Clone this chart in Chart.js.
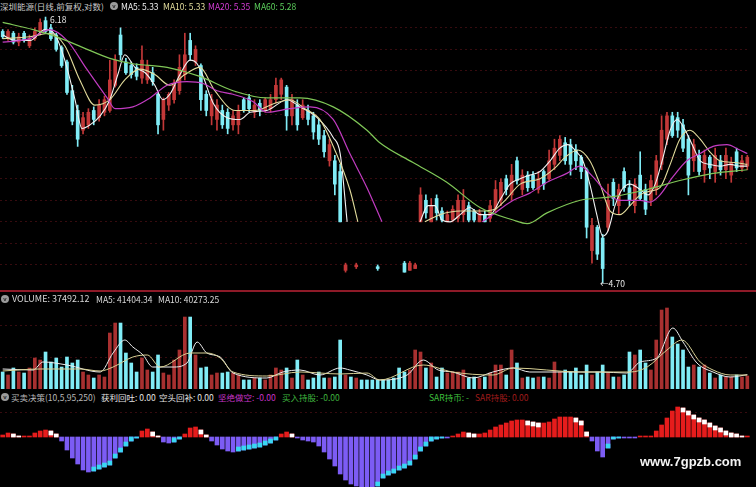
<!DOCTYPE html>
<html><head><meta charset="utf-8">
<script src="https://cdn.jsdelivr.net/npm/chart.js@4.4.0/dist/chart.umd.min.js"></script>
<style>
html,body{margin:0;padding:0;background:#000;width:756px;height:487px;overflow:hidden;position:relative;}
.box{position:absolute;left:0;width:750px;}
canvas{display:block;}
.t{position:absolute;white-space:nowrap;font-family:"Noto Sans CJK SC","Liberation Sans",sans-serif;font-size:8.5px;line-height:10px;color:#c8c8c8;}
.ic{position:absolute;width:8px;height:8px;border-radius:50%;background:#9a9a9a;color:#222;font:bold 6px/8px "Liberation Sans",sans-serif;text-align:center;}
.sep{position:absolute;left:0;width:756px;height:2px;background:#8e1a28;}
</style></head>
<body>
<div class="box" style="top:14px;height:277px"><canvas id="cp" width="750" height="277"></canvas></div>
<div class="box" style="top:305px;height:84px"><canvas id="cv" width="750" height="84"></canvas></div>
<div class="box" style="top:405px;height:82px"><canvas id="co" width="750" height="82"></canvas></div>
<div class="sep" style="top:290px"></div>

<span class="t" style="left:0;top:1px;color:#c8c8c8">深圳能源(日线,前复权,对数)</span>
<div class="ic" style="left:110px;top:2px">v</div>
<span class="t" style="left:121px;top:1px;color:#eeeeee">MA5: 5.33</span>
<span class="t" style="left:163px;top:1px;color:#e2dc9c">MA10: 5.33</span>
<span class="t" style="left:208px;top:1px;color:#d23cd2">MA20: 5.35</span>
<span class="t" style="left:254px;top:1px;color:#5cd05c">MA60: 5.28</span>
<span class="t" style="left:50px;top:14px;color:#e8e8e8">6.18</span>
<span class="t" style="left:600px;top:278px;color:#e8e8e8">←4.70</span>

<div class="ic" style="left:1px;top:295px">v</div>
<span class="t" style="left:12px;top:294px;font-size:9px;color:#d8d8d8">VOLUME: 37492.12</span>
<span class="t" style="left:96px;top:294px;color:#d8d8d8">MA5: 41404.34</span>
<span class="t" style="left:158px;top:294px;color:#d8d8d8">MA10: 40273.25</span>

<div class="ic" style="left:1px;top:393px">v</div>
<span class="t" style="left:11px;top:392px;color:#b8b8b8">买卖决策(10,5,95,250)</span>
<span class="t" style="left:101px;top:392px;color:#e4e4e4">获利回吐: 0.00</span>
<span class="t" style="left:159px;top:392px;color:#e4e4e4">空头回补: 0.00</span>
<span class="t" style="left:218px;top:392px;color:#c834c8">坚绝做空: -0.00</span>
<span class="t" style="left:282px;top:392px;color:#3fb43f">买入持股: -0.00</span>
<span class="t" style="left:429px;top:392px;color:#3fc03f">SAR持币: -</span>
<span class="t" style="left:475px;top:392px;color:#a01c1c">SAR持股: 0.00</span>
<span class="t" style="left:640px;top:454px;font:bold 13px 'Liberation Sans',sans-serif;color:#f4f4f4">www.7gpzb.com</span>

<script>
// ---------- DATA ----------
const open = [6.10,6.06,6.09,6.04,6.09,6.02,6.06,6.10,6.16,6.12,
6.08,6.01,5.93,5.77,5.66,5.55,5.58,5.66,5.62,5.65,
5.66,5.80,6.08,5.93,5.91,5.90,5.84,5.83,5.87,5.75,
5.61,5.69,5.72,5.77,5.86,6.05,5.93,5.91,5.75,5.63,
5.61,5.66,5.65,5.58,5.58,5.72,5.73,5.65,5.70,5.66,
5.67,5.72,5.75,5.79,5.63,5.69,5.62,5.66,5.63,5.58,
5.52,5.38,5.38,5.32,4.77,null,4.79,null,null,null,
4.79,null,null,null,null,4.81,4.77,4.78,5.04,5.16,
5.04,5.17,5.10,5.04,5.05,5.06,5.08,5.13,5.10,5.04,
5.08,5.06,5.11,5.16,5.28,5.19,5.38,5.22,5.30,5.30,
5.22,5.32,5.28,5.36,5.41,5.48,5.47,5.44,5.40,5.33,
4.88,5.01,4.95,5.01,5.26,5.13,5.32,5.23,5.13,5.30,
5.22,5.16,5.22,5.36,5.50,5.63,5.62,5.58,5.50,5.38,
5.41,5.33,5.40,5.32,5.38,5.33,5.30,5.43,5.34,5.35];
const high = [6.11,6.11,6.10,6.09,6.10,6.08,6.12,6.17,6.18,6.14,
6.09,6.02,5.94,5.80,5.69,5.65,5.67,5.68,5.72,5.74,
5.94,5.97,6.12,5.95,5.93,5.92,6.02,5.94,5.90,5.76,
5.73,5.76,5.83,5.97,6.09,6.09,6.02,5.92,5.77,5.75,
5.72,5.69,5.67,5.66,5.69,5.73,5.75,5.72,5.72,5.73,
5.75,5.84,5.84,5.80,5.75,5.72,5.72,5.69,5.65,5.61,
5.55,5.50,5.41,5.36,4.81,null,4.81,null,null,null,
4.80,null,null,null,null,4.82,4.82,4.81,5.23,5.19,
5.17,5.19,5.12,5.10,5.13,5.19,5.22,5.15,5.11,5.11,
5.10,5.16,5.27,5.28,5.30,5.36,5.40,5.33,5.32,5.32,
5.32,5.33,5.44,5.50,5.52,5.51,5.50,5.47,5.41,5.34,
5.06,5.02,4.97,5.25,5.28,5.25,5.34,5.27,5.28,5.43,
5.25,5.30,5.41,5.63,5.65,5.65,5.65,5.61,5.52,5.50,
5.44,5.44,5.41,5.45,5.41,5.45,5.40,5.45,5.41,5.41];
const low = [6.06,6.05,6.03,6.02,6.04,6.01,6.05,6.08,6.09,6.05,
5.99,5.90,5.75,5.58,5.46,5.53,5.56,5.58,5.60,5.63,
5.65,5.79,5.94,5.86,5.84,5.83,5.81,5.81,5.80,5.53,
5.55,5.66,5.70,5.75,5.83,5.94,5.91,5.66,5.63,5.58,
5.55,5.56,5.53,5.55,5.53,5.65,5.65,5.62,5.63,5.65,
5.65,5.70,5.72,5.55,5.58,5.55,5.61,5.58,5.50,5.47,
5.40,5.35,5.19,5.04,4.76,null,4.78,null,null,null,
4.77,null,null,null,null,4.76,4.77,4.78,5.04,5.06,
5.04,5.05,5.04,5.04,5.04,5.04,5.04,5.04,5.04,5.04,
5.04,5.04,5.09,5.13,5.19,5.16,5.25,5.19,5.21,5.22,
5.20,5.22,5.27,5.33,5.38,5.36,5.30,5.33,5.28,4.95,
4.81,4.83,4.70,4.99,5.13,5.08,5.21,5.13,5.09,5.16,
5.08,5.13,5.19,5.33,5.47,5.51,5.51,5.43,5.19,5.32,
5.30,5.26,5.28,5.26,5.30,5.28,5.26,5.32,5.32,5.33];
const close = [6.07,6.10,6.04,6.07,6.05,6.06,6.10,6.15,6.10,6.06,
6.00,5.91,5.76,5.60,5.50,5.62,5.65,5.61,5.69,5.72,
5.83,5.94,5.97,5.87,5.86,5.85,5.94,5.91,5.82,5.58,
5.72,5.75,5.80,5.90,5.97,5.97,6.00,5.72,5.66,5.72,
5.69,5.58,5.56,5.63,5.66,5.66,5.67,5.69,5.66,5.72,
5.72,5.80,5.83,5.63,5.72,5.58,5.69,5.61,5.54,5.50,
5.43,5.47,5.25,5.04,4.80,null,4.80,null,null,null,
4.78,null,null,null,null,4.76,4.81,4.80,5.19,5.09,
5.13,5.09,5.05,5.08,5.11,5.16,5.16,5.05,5.05,5.09,
5.04,5.13,5.22,5.26,5.22,5.30,5.27,5.30,5.23,5.23,
5.28,5.25,5.38,5.45,5.50,5.38,5.36,5.38,5.32,5.01,
5.02,4.86,4.78,5.16,5.17,5.22,5.23,5.16,5.25,5.17,
5.11,5.27,5.38,5.55,5.63,5.52,5.55,5.45,5.30,5.47,
5.32,5.41,5.34,5.41,5.33,5.41,5.37,5.34,5.38,5.40];
const volume = [49000,40400,60600,49000,46100,60600,89400,83600,106700,77900,
89400,63400,92300,75000,83600,49000,40400,31700,40400,34600,
161500,190300,190300,103800,75000,49000,89400,54800,49000,98100,
46100,40400,83600,112500,207600,207600,98100,60600,63400,40400,
46100,46100,49000,46100,40400,26000,26000,31700,31700,26000,
40400,60600,54800,60600,31700,83600,40400,26000,31700,49000,
31700,31700,34600,141300,40400,34600,31700,26000,26000,26000,
26000,26000,26000,31700,60600,49000,54800,112500,106700,60600,
75000,34600,60600,46100,49000,49000,54800,31700,34600,31700,
34600,46100,69200,69200,40400,112500,75000,31700,34600,31700,
34600,34600,31700,77900,49000,54800,49000,60600,40400,69200,
40400,49000,69200,46100,34600,34600,40400,106700,98100,112500,
75000,54800,141300,227800,233600,150000,129800,112500,63400,69200,
63400,69200,46100,31700,40400,34600,34600,40400,34600,37492];
// moving-average lines: [candle index, value]; null = hidden
const ma5 = [[0,6.08],[2.3,6.05],[5.1,6.05],[7.9,6.11],[9.8,6.08],[11.6,5.94],[13.5,5.72],[14.8,5.56],[16.3,5.58],[18.2,5.63],[20,5.72],[21.5,5.86],[22.8,5.97],[24.7,5.90],[26.6,5.87],[28.4,5.80],[29.9,5.72],[31.2,5.75],[33.1,5.86],[35,5.94],[36.3,5.92],[37.4,5.85],[39.3,5.70],[41.9,5.62],[44.3,5.61],[46.2,5.65],[49.3,5.66],[53.1,5.72],[55.5,5.68],[58.7,5.62],[61.7,5.51],[63,5.42],[64.3,5.04],[70,null],
[77.9,5.04],[79.4,5.13],[80.7,5.13],[82,5.05],[83.5,5.04],[85.4,5.08],[87.2,5.12],[89.1,5.08],[91,5.08],[92.8,5.16],[94.7,5.25],[96.6,5.28],[98.4,5.30],[100.3,5.32],[102.2,5.38],[104,5.45],[105.5,5.47],[106.8,5.44],[108.3,5.38],[109.6,5.25],[110.9,5.08],[112,4.96],[113,4.99],[114.3,5.13],[115.6,5.22],[117.1,5.25],[119,5.22],[120.5,5.19],[121.8,5.25],[123.1,5.38],[124.6,5.55],[125.9,5.61],[127.4,5.55],[128.7,5.47],[130.2,5.38],[132,5.36],[133.9,5.35],[135.8,5.36],[137.6,5.35],[139,5.35]];
const ma10 = [[0,6.06],[5.1,6.07],[8.8,6.09],[11.6,6.02],[14.4,5.83],[17.2,5.69],[20,5.72],[22.8,5.83],[25.6,5.89],[28.4,5.86],[31.2,5.80],[34,5.86],[36.8,5.90],[39.6,5.77],[43.4,5.66],[47.1,5.66],[50.8,5.70],[53.6,5.72],[56.4,5.67],[59.2,5.61],[62,5.44],[64.8,5.22],[66.3,5.04],[72,null],
[78.8,5.04],[81.6,5.08],[85.4,5.10],[89.1,5.10],[91.9,5.11],[93.8,5.16],[96.6,5.25],[100.3,5.28],[103.1,5.34],[105,5.40],[107.4,5.44],[109.6,5.38],[111.5,5.25],[113.4,5.10],[115.2,5.08],[117.1,5.13],[119,5.19],[120.8,5.21],[122.7,5.23],[124.6,5.36],[126.4,5.50],[128.3,5.55],[130.2,5.50],[132,5.43],[133.9,5.38],[136.7,5.37],[139,5.36]];
const ma20 = [[0,6.04],[5.1,6.06],[8.8,6.11],[12,6.05],[15.7,5.89],[19.5,5.73],[21,5.67],[24.3,5.68],[27.5,5.73],[30.7,5.80],[34.4,5.82],[37.4,5.81],[40,5.77],[43,5.75],[46.7,5.71],[49.3,5.65],[53.6,5.67],[57.4,5.68],[61.7,5.61],[64.8,5.42],[68,5.23],[70.8,5.04],[80,null],
[89.5,5.04],[91,5.07],[95.3,5.16],[98.4,5.20],[101.6,5.26],[105.3,5.31],[107.8,5.35],[110.2,5.29],[112.8,5.20],[115.2,5.16],[119,5.16],[120.8,5.15],[122.7,5.19],[125.1,5.29],[127.7,5.38],[130.2,5.42],[132.6,5.46],[135.2,5.47],[137.6,5.44],[139,5.42]];
const ma60 = [[0,6.15],[5.7,6.11],[10.1,6.07],[15,6.01],[20,5.95],[24.3,5.92],[30.7,5.90],[36.8,5.85],[43,5.77],[49.3,5.73],[55.5,5.73],[61.7,5.68],[68,5.55],[70.4,5.48],[76.6,5.37],[82.9,5.26],[89.1,5.12],[95.3,5.05],[97.9,5.03],[101.6,5.09],[107.8,5.16],[113.9,5.18],[120.3,5.22],[126.4,5.27],[132.6,5.31],[139,5.33]];
const volMa5 = [[0,57700],[5.7,54800],[7.5,77900],[12,69200],[18.2,49000],[20.6,103800],[22.8,141300],[24.3,121100],[26.2,98100],[28,63400],[31.8,63400],[34.4,75000],[36.3,135500],[38.1,103800],[40.6,92300],[43,46100],[49.3,31700],[52.3,49000],[55.5,54800],[59.2,40400],[63,60600],[64.8,54800],[68,40400],[70.4,26000],[75.5,40400],[78.5,83600],[81.3,54800],[84,49000],[87.8,31700],[91.5,49000],[95.3,60600],[98.4,49000],[104,49000],[111.5,49000],[116.5,46100],[119,77900],[122.1,89400],[125.1,175900],[127,135500],[129.6,75000],[132.6,49000],[135.8,34600],[139,41404]];
const volMa10 = [[0,51900],[7,57700],[14.4,57700],[18.2,51900],[20.6,63400],[24.3,92300],[27,98100],[29.4,63400],[35,103800],[38.1,103800],[40.6,89400],[43,49000],[49.3,37500],[55.5,49000],[63,43300],[68,46100],[70.4,26000],[78.5,69200],[84,49000],[91.5,40400],[95.3,60600],[107.8,49000],[117.1,49000],[120.3,63400],[124,112500],[126.8,141300],[130.2,77900],[132.6,54800],[135.8,40400],[139,40273]];
// 买卖决策 oscillator, one value per candle
const osc = [0.02,0.04,0.03,0.01,0.01,0.01,0.04,0.06,0.07,0.06,
0.03,-0.04,-0.13,-0.21,-0.27,-0.33,-0.35,-0.34,-0.32,-0.30,
-0.28,-0.21,-0.15,-0.09,-0.04,-0.01,0.06,0.08,0.05,0.01,
-0.05,-0.06,-0.05,-0.02,0.03,0.09,0.10,0.07,0.02,-0.04,
-0.08,-0.12,-0.14,-0.15,-0.14,-0.13,-0.12,-0.11,-0.10,-0.08,
-0.06,-0.03,0.03,0.05,0.03,-0.01,-0.03,-0.04,-0.05,-0.09,
-0.15,-0.22,-0.29,-0.37,-0.43,-0.47,-0.49,-0.50,-0.50,-0.50,
-0.49,-0.41,-0.38,-0.36,-0.33,-0.31,-0.28,-0.22,-0.14,-0.09,
-0.04,-0.02,-0.01,-0.01,0.01,0.03,0.05,0.04,0.03,0.03,
0.04,0.07,0.10,0.12,0.14,0.16,0.17,0.17,0.16,0.15,
0.14,0.14,0.15,0.18,0.20,0.20,0.20,0.19,0.16,0.05,
-0.04,-0.14,-0.20,-0.11,-0.02,-0.01,-0.01,-0.01,-0.01,0.01,
0.01,0.01,0.06,0.12,0.19,0.26,0.30,0.29,0.26,0.22,
0.19,0.17,0.14,0.11,0.09,0.06,0.04,0.03,0.01,0.01];
const gridPrice = [4.80,4.92,5.04,5.16,5.28,5.40,5.52,5.64,5.76,5.88,6.00,6.12];
const gridVol = [92000,184000];
const gridOsc = [0.25];

// ---------- DRAWING ----------
const N = open.length;
const idx = Array.from({length:N},(_,i)=>i);
const RED='#c23838', CYAN='#80ecf6';
const up = idx.map(i => open[i]!=null && close[i] >= open[i]);
const candleCol = idx.map(i => up[i] ? RED : CYAN);
const pts = a => a.map(p => ({x:p[0], y:p[1]}));
const xScale = {type:'linear', min:-0.5, max:N-0.5, offset:false, bounds:'data', display:false, grace:0};
function yScale(min,max,grid){
  return {min, max, display:true, position:'left',
    afterFit(a){a.width=0;},
    afterBuildTicks(a){a.ticks = grid.map(v=>({value:v}));},
    ticks:{display:false},
    border:{display:false, dash:[2,3]},
    grid:{color:'rgba(110,22,30,0.5)', lineWidth:1, drawTicks:false, tickLength:0}};
}
const base = {animation:false, responsive:false, events:[],
  layout:{padding:0}, plugins:{legend:{display:false}, tooltip:{enabled:false}}};
const line = (data,color,w) => ({type:'line', data:pts(data), borderColor:color, borderWidth:w||1.1,
  pointRadius:0, cubicInterpolationMode:'monotone', spanGaps:false, order:0, fill:false});

new Chart(document.getElementById('cp'), {
  type:'bar',
  data:{datasets:[
    line(ma60,'#80c858',1.2), line(ma20,'#c23cc2',1.2), line(ma10,'#e2dc9c',1.1), line(ma5,'#f2f2f2',1.1),
    {type:'bar', data: idx.map(i=>({x:i, y: high[i]==null?null:[low[i],high[i]]})),
      backgroundColor:candleCol, barThickness:1, grouped:false, order:2},
    {type:'bar', data: idx.map(i=>({x:i, y: open[i]==null?null:[Math.min(open[i],close[i]),Math.max(open[i],close[i])]})),
      backgroundColor:candleCol, barThickness:3, minBarLength:1, grouped:false, order:1}
  ]},
  options:{...base, scales:{x:xScale, y:yScale(4.655,6.197,gridPrice)}}
});

new Chart(document.getElementById('cv'), {
  type:'bar',
  data:{datasets:[
    line(volMa10,'#d8d094',1), line(volMa5,'#ececec',1),
    {type:'bar', data: idx.map(i=>({x:i, y:volume[i]})),
      backgroundColor: idx.map(i => up[i] ? '#a83030' : CYAN), barThickness:3, grouped:false, order:1}
  ]},
  options:{...base, scales:{x:xScale, y:yScale(0,242300,gridVol)}}
});

const tips = idx.map(i => {
  const v = osc[i], p = i>0 ? osc[i-1] : v;
  if (v < 0 && v > p) return {x:i, y:[v, Math.min(0, v+0.04)]};
  if (v > 0 && v < p) return {x:i, y:[Math.max(0, v-0.04), v]};
  return {x:i, y:null};
});
new Chart(document.getElementById('co'), {
  type:'bar',
  data:{datasets:[
    {type:'bar', data: tips, backgroundColor: idx.map(i => osc[i] < 0 ? '#38d8f2' : '#ffffff'),
      barThickness:4, grouped:false, order:0},
    {type:'bar', data: idx.map(i=>({x:i, y:osc[i]})),
      backgroundColor: idx.map(i => osc[i] >= 0 ? '#e61c1c' : '#7c5cf4'), barThickness:4, minBarLength:1, grouped:false, order:1}
  ]},
  options:{...base, scales:{x:xScale, y:yScale(-0.50,0.32,gridOsc)}}
});
</script>
</body></html>
